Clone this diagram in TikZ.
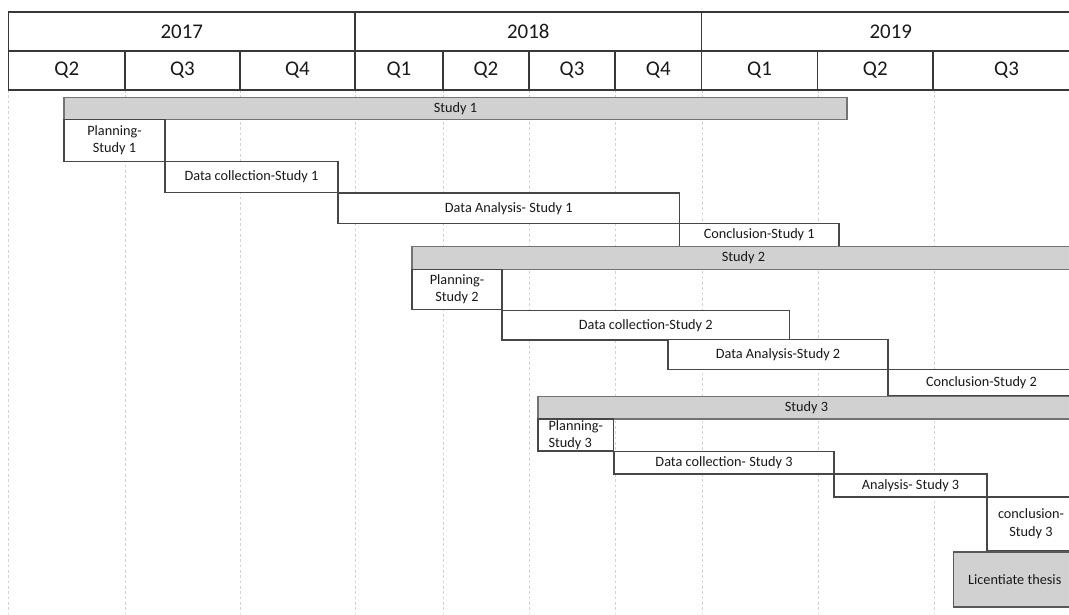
\documentclass[tikz,border=0pt]{standalone}
\usepackage{fontspec}
\setmainfont{Carlito}

\begin{document}
\begin{tikzpicture}[x=0.75pt, y=-0.75pt,
                    cell/.style={draw=black!78, line width=1pt},
                    headlabel/.style={font=\fontsize{15.7}{18}\selectfont, text=black!90},
                    task/.style={draw=black!72, line width=0.8pt, fill=white},
                    study/.style={draw=black!55, line width=1pt, fill=black!18},
                    tasklabel/.style={font=\fontsize{10.7}{13}\selectfont, text=black!90, align=center, inner sep=0pt},
                    gridline/.style={draw=black!18, dash pattern=on 2pt off 2pt, line width=0.5pt}]
  \useasboundingbox (0,0) rectangle (1069,614);
  \clip (0,0) rectangle (1069,614);

  % quarter grid
  \path[gridline] (8.6,90) -- (8.6,614)  (125,90) -- (125,614)  (240,90) -- (240,614)
                  (355,90) -- (355,614)  (443,90) -- (443,614)  (529,90) -- (529,614)
                  (615,90) -- (615,614)  (702,90) -- (702,614)  (818,90) -- (818,614)
                  (934,90) -- (934,614);

  % years
  \path[cell] (8.6,12) rectangle (355,51) node[midway, headlabel] (y2017) {2017};
  \path[cell] (355,12) rectangle (701.5,51) node[midway, headlabel] (y2018) {2018};
  \path[cell] (701.5,12) rectangle (1080,51) node[midway, headlabel] (y2019) {2019};

  % quarters
  \path[cell] (8.6,51) rectangle (125,90) node[midway, headlabel] (q17b) {Q2};
  \path[cell] (125,51) rectangle (240,90) node[midway, headlabel] (q17c) {Q3};
  \path[cell] (240,51) rectangle (355,90) node[midway, headlabel] (q17d) {Q4};
  \path[cell] (355,51) rectangle (443,90) node[midway, headlabel] (q18a) {Q1};
  \path[cell] (443,51) rectangle (529,90) node[midway, headlabel] (q18b) {Q2};
  \path[cell] (529,51) rectangle (615,90) node[midway, headlabel] (q18c) {Q3};
  \path[cell] (615,51) rectangle (701.5,90) node[midway, headlabel] (q18d) {Q4};
  \path[cell] (701.5,51) rectangle (817.5,90) node[midway, headlabel] (q19a) {Q1};
  \path[cell] (817.5,51) rectangle (933,90) node[midway, headlabel] (q19b) {Q2};
  \path[cell] (933,51) rectangle (1080,90) node[midway, headlabel] (q19c) {Q3};

  % study 1
  \path[study] (64,97.5) rectangle (847,119.5) node[midway, tasklabel] (study1) {Study 1};
  \path[task] (64,119.5) rectangle (165,161.5) node[midway, tasklabel] (plan1) {Planning-\\Study 1};
  \path[task] (165,161.5) rectangle (338,192.5) node[midway, tasklabel] (collect1) {Data collection-Study 1};
  \path[task] (338,193) rectangle (679.5,223.5) node[midway, tasklabel] (analysis1) {Data Analysis- Study 1};
  \path[task] (679.5,223.5) rectangle (839,246.5) node[midway, tasklabel] (concl1) {Conclusion-Study 1};

  % study 2
  \path[study] (412,246.5) rectangle (1075,269.5) node[midway, tasklabel] (study2) {Study 2};
  \path[task] (412,269.5) rectangle (502,309.5) node[midway, tasklabel] (plan2) {Planning-\\Study 2};
  \path[task] (502,310.5) rectangle (789.5,340) node[midway, tasklabel] (collect2) {Data collection-Study 2};
  \path[task] (668,339.5) rectangle (888,369.5) node[midway, tasklabel] (analysis2) {Data Analysis-Study 2};
  \path[task] (888,369.5) rectangle (1075,396) node[midway, tasklabel] (concl2) {Conclusion-Study 2};

  % study 3
  \path[study] (538,396.5) rectangle (1075,419) node[midway, tasklabel] (study3) {Study 3};
  \path[task] (538,419) rectangle (613.5,451) node[midway, tasklabel, align=left] (plan3) {Planning-\\Study 3};
  \path[task] (614,451.5) rectangle (834,474) node[midway, tasklabel] (collect3) {Data collection- Study 3};
  \path[task] (834,474) rectangle (987,497) node[midway, tasklabel] (analysis3) {Analysis- Study 3};
  \path[task] (987,497) rectangle (1075,550.5) node[midway, tasklabel] (concl3) {conclusion-\\Study 3};
  \path[study, draw=black!65] (953.5,552) rectangle (1076,607) node[midway, tasklabel] (thesis) {Licentiate thesis};
\end{tikzpicture}
\end{document}
